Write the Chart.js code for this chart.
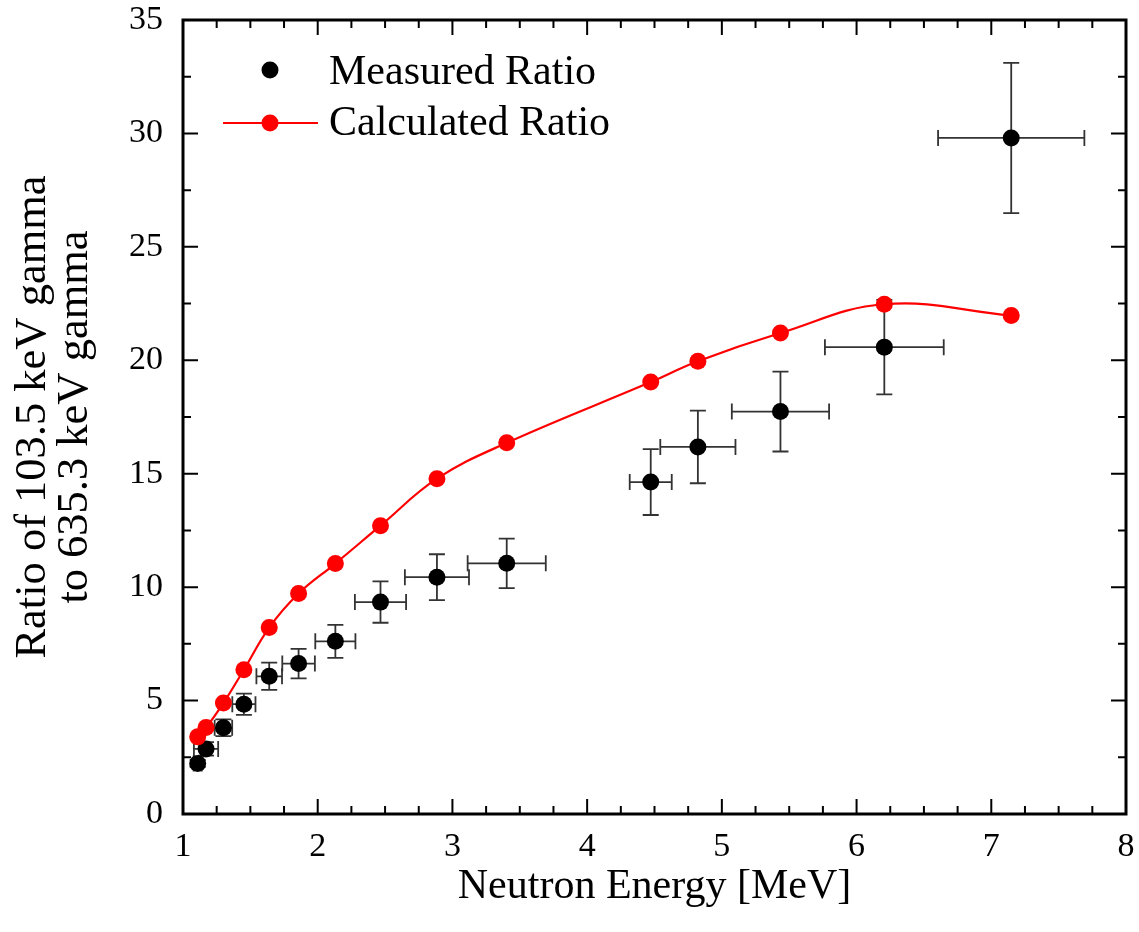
<!DOCTYPE html>
<html>
<head>
<meta charset="utf-8">
<script src="https://cdn.jsdelivr.net/npm/chart.js@4.4.1/dist/chart.umd.min.js"></script>
<style>
  html, body { margin: 0; padding: 0; background: #ffffff; }
  #wrap { width: 1139px; height: 932px; position: relative; }
</style>
</head>
<body>
<div id="wrap"><canvas id="c" width="1139" height="932"></canvas></div>
<script>
// ---- data ----
const energy      = [1.109, 1.171, 1.300, 1.452, 1.640, 1.858, 2.131, 2.466, 2.885, 3.403, 4.472, 4.822, 5.435, 6.206, 7.148];
const energyErr   = [0.03, 0.09, 0.065, 0.086, 0.095, 0.121, 0.149, 0.19, 0.238, 0.29, 0.156, 0.279, 0.361, 0.441, 0.543];
const measured    = [2.23, 2.87, 3.80, 4.84, 6.07, 6.63, 7.61, 9.34, 10.44, 11.05, 14.63, 16.18, 17.74, 20.58, 29.80];
const measuredErr = [0.15, 0.30, 0.37, 0.47, 0.60, 0.65, 0.73, 0.91, 1.01, 1.09, 1.45, 1.60, 1.76, 2.08, 3.31];
const calculated  = [3.40, 3.81, 4.89, 6.36, 8.22, 9.72, 11.04, 12.71, 14.78, 16.36, 19.04, 19.96, 21.20, 22.47, 21.97];
const xTickLabels = [1, 2, 3, 4, 5, 6, 7, 8];
const yTickLabels = [0, 5, 10, 15, 20, 25, 30, 35];
const legendLabels = ['Measured Ratio', 'Calculated Ratio'];
const xTitle = 'Neutron Energy [MeV]';
const yTitle = ['Ratio of 103.5 keV gamma', 'to 635.3 keV gamma'];

const FONT = "'Liberation Serif', 'Times New Roman', Times, serif";

const errorBarPlugin = {
  id: 'errorBars',
  beforeDatasetsDraw(chart) {
    const {ctx, scales: {x, y}} = chart;
    ctx.save();
    ctx.strokeStyle = '#333333';
    ctx.lineWidth = 1.8;
    const cap = 8;
    for (let i = 0; i < energy.length; i++) {
      const px = x.getPixelForValue(energy[i]);
      const py = y.getPixelForValue(measured[i]);
      const xl = x.getPixelForValue(energy[i] - energyErr[i]);
      const xr = x.getPixelForValue(energy[i] + energyErr[i]);
      const yt = y.getPixelForValue(measured[i] + measuredErr[i]);
      const yb = y.getPixelForValue(measured[i] - measuredErr[i]);
      ctx.beginPath();
      ctx.moveTo(xl, py); ctx.lineTo(xr, py);
      ctx.moveTo(xl, py - cap); ctx.lineTo(xl, py + cap);
      ctx.moveTo(xr, py - cap); ctx.lineTo(xr, py + cap);
      ctx.moveTo(px, yt); ctx.lineTo(px, yb);
      ctx.moveTo(px - cap, yt); ctx.lineTo(px + cap, yt);
      ctx.moveTo(px - cap, yb); ctx.lineTo(px + cap, yb);
      ctx.stroke();
    }
    ctx.restore();
  }
};

const framePlugin = {
  id: 'frame',
  afterDraw(chart) {
    const {ctx, chartArea: a, scales: {x, y}} = chart;
    ctx.save();
    ctx.strokeStyle = '#000';
    ctx.lineWidth = 2;
    const majL = 15, minL = 8;
    ctx.beginPath();
    for (let v = x.min; v <= x.max + 1e-9; v += 0.25) {
      const isMaj = Math.abs(v - Math.round(v)) < 1e-9;
      const L = isMaj ? majL : minL;
      const px = x.getPixelForValue(v);
      ctx.moveTo(px, a.bottom); ctx.lineTo(px, a.bottom - L);
      ctx.moveTo(px, a.top); ctx.lineTo(px, a.top + L);
    }
    for (let v = y.min; v <= y.max + 1e-9; v += 2.5) {
      const isMaj = Math.abs(v / 5 - Math.round(v / 5)) < 1e-9;
      const L = isMaj ? majL : minL;
      const py = y.getPixelForValue(v);
      ctx.moveTo(a.left, py); ctx.lineTo(a.left + L, py);
      ctx.moveTo(a.right, py); ctx.lineTo(a.right - L, py);
    }
    ctx.stroke();
    ctx.lineWidth = 3;
    ctx.strokeRect(a.left, a.top, a.right - a.left, a.bottom - a.top);

    // legend
    ctx.font = '42px ' + FONT;
    ctx.fillStyle = '#000';
    ctx.textBaseline = 'alphabetic';
    ctx.textAlign = 'left';
    ctx.beginPath();
    ctx.arc(270, 70, 8.5, 0, Math.PI * 2);
    ctx.fill();
    ctx.fillText(legendLabels[0], 329, 84);
    ctx.strokeStyle = '#ff0000';
    ctx.lineWidth = 2.2;
    ctx.beginPath();
    ctx.moveTo(223, 123); ctx.lineTo(318, 123);
    ctx.stroke();
    ctx.fillStyle = '#ff0000';
    ctx.beginPath();
    ctx.arc(270, 123, 8.5, 0, Math.PI * 2);
    ctx.fill();
    ctx.fillStyle = '#000';
    ctx.fillText(legendLabels[1], 329, 135);
    ctx.restore();
  }
};

new Chart(document.getElementById('c'), {
  type: 'scatter',
  data: {
    datasets: [
      {
        label: legendLabels[1],
        type: 'line',
        data: energy.map((e, i) => ({x: e, y: calculated[i]})),
        borderColor: '#ff0000',
        borderWidth: 2.2,
        backgroundColor: '#ff0000',
        pointBackgroundColor: '#ff0000',
        pointBorderWidth: 0,
        pointRadius: 8.5,
        tension: 0.4,
        fill: false,
        order: 0
      },
      {
        label: legendLabels[0],
        data: energy.map((e, i) => ({x: e, y: measured[i]})),
        backgroundColor: '#000',
        pointBackgroundColor: '#000',
        pointBorderWidth: 0,
        pointRadius: 8.5,
        showLine: false,
        order: 1
      }
    ]
  },
  options: {
    responsive: false,
    animation: false,
    devicePixelRatio: 1,
    layout: { padding: { left: 0, top: 20, right: 13, bottom: 0 } },
    plugins: { legend: { display: false }, tooltip: { enabled: false } },
    scales: {
      x: {
        type: 'linear', min: 1, max: 8,
        afterBuildTicks: (s) => { s.ticks = xTickLabels.map(v => ({value: v})); },
        ticks: { color: '#000', font: { family: FONT, size: 34 }, padding: 13, maxRotation: 0 },
        grid: { display: false, drawTicks: false },
        border: { display: false },
        title: { display: true, text: xTitle, color: '#000', font: { family: FONT, size: 42, lineHeight: 1.2 }, padding: { top: 0, bottom: 20 } },
        afterFit: (s) => { s.height = 118; s.paddingLeft = 0; s.paddingRight = 0; }
      },
      y: {
        type: 'linear', min: 0, max: 35,
        afterBuildTicks: (s) => { s.ticks = yTickLabels.map(v => ({value: v})); },
        ticks: { color: '#000', font: { family: FONT, size: 34 }, padding: 20 },
        grid: { display: false, drawTicks: false },
        border: { display: false },
        title: { display: true, text: yTitle, color: '#000', font: { family: FONT, size: 44.5, lineHeight: 0.95 }, padding: { top: 12, bottom: 0 } },
        afterFit: (s) => { s.width = 183; s.paddingTop = 0; s.paddingBottom = 0; }
      }
    }
  },
  plugins: [errorBarPlugin, framePlugin]
});
</script>
</body>
</html>
